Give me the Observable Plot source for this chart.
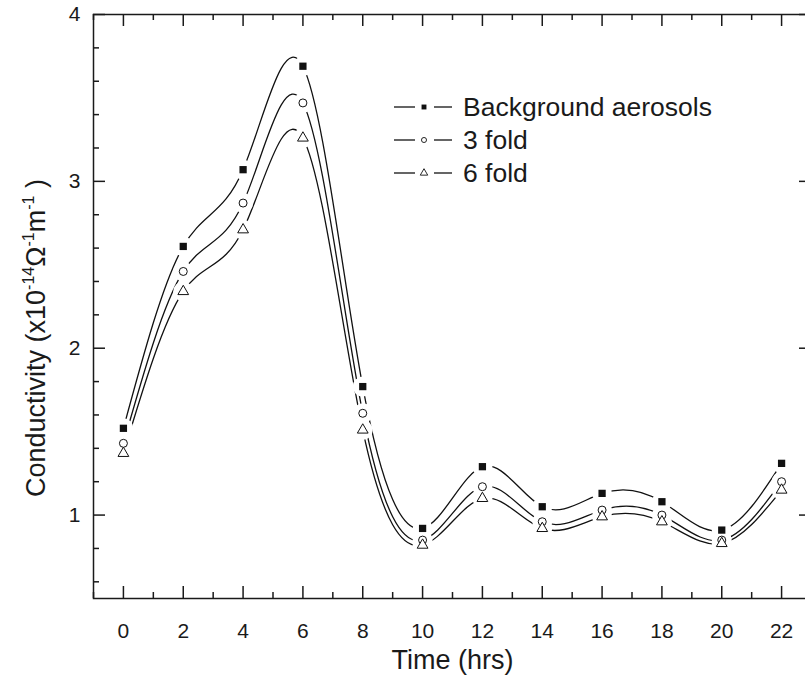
<!DOCTYPE html>
<html>
<head>
<meta charset="utf-8">
<script src="https://cdn.jsdelivr.net/npm/d3@7"></script>
<script src="https://cdn.jsdelivr.net/npm/@observablehq/plot@0.6"></script>
<style>
  html, body { margin: 0; padding: 0; background: #fff; overflow: hidden; }
  #chart { width: 805px; height: 680px; overflow: hidden; }
  #chart svg { max-width: none !important; }
</style>
</head>
<body>
<div id="chart"></div>
<script>
// ---- data ----
const time = [0, 2, 4, 6, 8, 10, 12, 14, 16, 18, 20, 22];
const background = [1.52, 2.61, 3.07, 3.69, 1.77, 0.92, 1.29, 1.05, 1.13, 1.08, 0.91, 1.31];
const fold3 = [1.43, 2.46, 2.87, 3.47, 1.61, 0.85, 1.17, 0.96, 1.03, 1.00, 0.85, 1.20];
const fold6 = [1.37, 2.34, 2.71, 3.26, 1.51, 0.82, 1.10, 0.92, 0.99, 0.96, 0.83, 1.15];
const seriesNames = ["Background aerosols", "3 fold", "6 fold"];
const seriesSymbols = ["square", "circle", "triangle"];

const xMajorTicks = [0, 2, 4, 6, 8, 10, 12, 14, 16, 18, 20, 22];
const xMinorTicks = [-1, 1, 3, 5, 7, 9, 11, 13, 15, 17, 19, 21, 23];
const yMajorTicks = [1, 2, 3, 4];
const yMinorTicks = [0.6, 0.8, 1.2, 1.4, 1.6, 1.8, 2.2, 2.4, 2.6, 2.8, 3.2, 3.4, 3.6, 3.8];

const rows = [];
[background, fold3, fold6].forEach((vals, s) => {
  vals.forEach((v, i) => rows.push({series: seriesNames[s], symbol: seriesSymbols[s], t: time[i], v}));
});

const W = 812, H = 680, mL = 93, mR = 1, mT = 14, mB = 82;
const innerW = W - mL - mR, innerH = H - mT - mB;
const tickFont = "'Liberation Sans Narrow', 'Liberation Sans', Arial, sans-serif";
const mainFont = "'Liberation Sans', Arial, Helvetica, sans-serif";
const axisColor = "#1a1a1a";

const chart = Plot.plot({
  width: W, height: H,
  marginLeft: mL, marginRight: mR, marginTop: mT, marginBottom: mB,
  style: {fontFamily: mainFont, background: "#fff", color: axisColor, maxWidth: "none"},
  x: {domain: [-1, 23], axis: null},
  y: {domain: [0.5, 4], axis: null},
  symbol: {domain: seriesSymbols, range: seriesSymbols},
  marks: [
    // inward ticks on all four sides
    Plot.tickX(xMajorTicks, {x: d => d, insetTop: innerH - 12, stroke: axisColor, strokeWidth: 1.5}),
    Plot.tickX(xMinorTicks, {x: d => d, insetTop: innerH - 6, stroke: axisColor, strokeWidth: 1.5}),
    Plot.tickX(xMajorTicks, {x: d => d, insetBottom: innerH - 12, stroke: axisColor, strokeWidth: 1.5}),
    Plot.tickX(xMinorTicks, {x: d => d, insetBottom: innerH - 6, stroke: axisColor, strokeWidth: 1.5}),
    Plot.tickY(yMajorTicks, {y: d => d, insetRight: innerW - 12, stroke: axisColor, strokeWidth: 1.5}),
    Plot.tickY(yMinorTicks, {y: d => d, insetRight: innerW - 6, stroke: axisColor, strokeWidth: 1.5}),
    Plot.tickY(yMajorTicks, {y: d => d, insetLeft: innerW - 12, stroke: axisColor, strokeWidth: 1.5}),
    Plot.tickY(yMinorTicks, {y: d => d, insetLeft: innerW - 6, stroke: axisColor, strokeWidth: 1.5}),
    // tick labels
    Plot.axisX({ticks: xMajorTicks, tickSize: 0, tickPadding: 25, fontSize: 21, fontFamily: tickFont, label: null, fill: axisColor}),
    Plot.axisY({ticks: yMajorTicks, tickSize: 0, tickPadding: 13, fontSize: 21, fontFamily: tickFont, label: null, fill: axisColor, tickFormat: d3.format("d")}),
    // data curves
    Plot.line(rows, {x: "t", y: "v", z: "series", curve: "natural", stroke: "#111", strokeWidth: 1.3}),
    // gaps around markers
    Plot.dot(rows, {x: "t", y: "v", r: 10, fill: "#fff", stroke: "none"}),
    // markers
    Plot.dot(rows.filter(d => d.symbol === "square"), {x: "t", y: "v", symbol: "symbol", r: 4.1, fill: "#111", stroke: "none"}),
    Plot.dot(rows.filter(d => d.symbol === "circle"), {x: "t", y: "v", symbol: "symbol", r: 4, fill: "#fff", stroke: "#111", strokeWidth: 1}),
    Plot.dot(rows.filter(d => d.symbol === "triangle"), {x: "t", y: "v", symbol: "symbol", r: 4, fill: "#fff", stroke: "#111", strokeWidth: 1}),
    Plot.frame({stroke: axisColor, strokeWidth: 1.5}),
    // x axis title
    Plot.text(["Time (hrs)"], {frameAnchor: "bottom", lineAnchor: "middle", dy: 62, text: d => d, fontSize: 27, fontFamily: mainFont, fill: axisColor})
  ]
});
chart.style.maxWidth = "none";
document.getElementById("chart").appendChild(chart);

const svg = d3.select(chart);

// y axis title with superscripts
const yl = svg.append("text")
  .attr("transform", "translate(45,497) rotate(-90)")
  .attr("text-anchor", "start")
  .attr("font-family", mainFont)
  .attr("font-size", 27)
  .attr("fill", axisColor);
yl.append("tspan").text("Conductivity (x10");
yl.append("tspan").attr("font-size", 16).attr("dy", -11).text("-14");
yl.append("tspan").attr("dy", 11).text("Ω");
yl.append("tspan").attr("font-size", 16).attr("dy", -11).text("-1");
yl.append("tspan").attr("dy", 11).text("m");
yl.append("tspan").attr("font-size", 16).attr("dy", -11).text("-1");
yl.append("tspan").attr("dy", 11).text(" )");

// legend
const legendRowY = [107, 140, 173];
const lg = svg.append("g").attr("text-anchor", "start");
seriesNames.forEach((name, i) => {
  const y = legendRowY[i];
  lg.append("line").attr("x1", 394).attr("x2", 415).attr("y1", y).attr("y2", y).attr("stroke", "#111").attr("stroke-width", 1.3);
  lg.append("line").attr("x1", 434).attr("x2", 452).attr("y1", y).attr("y2", y).attr("stroke", "#111").attr("stroke-width", 1.3);
  const sym = i === 0 ? d3.symbolSquare : i === 1 ? d3.symbolCircle : d3.symbolTriangle;
  const size = i === 0 ? 24 : i === 1 ? 20 : 24;
  lg.append("path")
    .attr("d", d3.symbol(sym, size)())
    .attr("transform", `translate(424,${y})`)
    .attr("fill", i === 0 ? "#111" : "#fff")
    .attr("stroke", i === 0 ? "none" : "#111")
    .attr("stroke-width", 0.9);
  lg.append("text")
    .attr("x", 463).attr("y", y).attr("dy", "0.35em")
    .attr("text-anchor", "start")
    .attr("font-family", mainFont).attr("font-size", 26.5)
    .attr("fill", axisColor)
    .text(name);
});
</script>
</body>
</html>
